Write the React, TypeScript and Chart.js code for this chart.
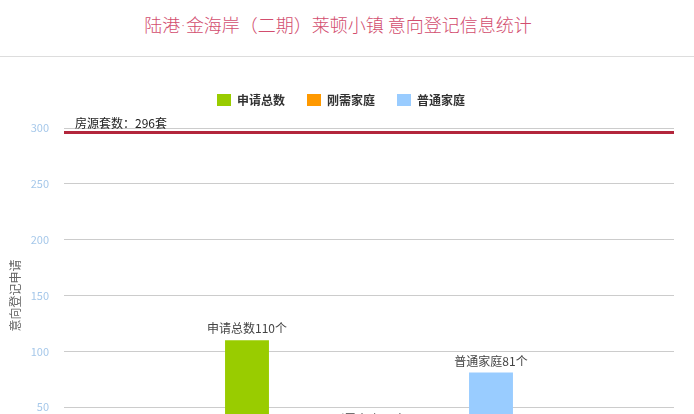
import React, { useEffect, useRef } from "react";
import { Chart, registerables } from "chart.js";

Chart.register(...registerables);

// chart data
const categories = ["意向登记"];
const seriesNames = ["申请总数", "刚需家庭", "普通家庭"];
const seriesValues = [110, 29, 81];
const seriesColors = ["#99cc00", "#ff9900", "#99ccff"];
const yTickValues = [0, 50, 100, 150, 200, 250, 300];
const houseCount = 296;

const FONT = '"Noto Sans CJK SC", "Noto Sans", sans-serif';

// push the plot area a bit further down from the legend
const legendGapPlugin = {
  id: "legendGap",
  beforeInit(chart: any) {
    const originalFit = chart.legend.fit;
    chart.legend.fit = function fit() {
      originalFit.bind(chart.legend)();
      this.height += 12;
    };
  },
};

// horizontal line for the number of houses
const markLinePlugin = {
  id: "markLine",
  afterDatasetsDraw(chart: any) {
    const { ctx, chartArea, scales } = chart;
    const y = scales.y.getPixelForValue(houseCount);
    ctx.save();
    ctx.strokeStyle = "#b3263c";
    ctx.lineWidth = 3;
    ctx.beginPath();
    ctx.moveTo(chartArea.left, y);
    ctx.lineTo(chartArea.right, y);
    ctx.stroke();
    ctx.fillStyle = "#222";
    ctx.font = `12px ${FONT}`;
    ctx.textAlign = "left";
    ctx.textBaseline = "alphabetic";
    ctx.fillText(`房源套数：${houseCount}套`, chartArea.left + 11, y - 4);
    ctx.restore();
  },
};

// labels on top of the bars
const barLabelPlugin = {
  id: "barLabel",
  afterDatasetsDraw(chart: any) {
    const ctx = chart.ctx as CanvasRenderingContext2D;
    ctx.save();
    ctx.font = `12px ${FONT}`;
    ctx.fillStyle = "#444";
    ctx.textAlign = "center";
    ctx.textBaseline = "alphabetic";
    chart.data.datasets.forEach((dataset: any, i: number) => {
      const meta = chart.getDatasetMeta(i);
      meta.data.forEach((bar: any, j: number) => {
        ctx.fillText(`${dataset.label}${dataset.data[j]}个`, bar.x, bar.y - 7);
      });
    });
    ctx.restore();
  },
};

const App: React.FC = () => {
  const canvasRef = useRef<HTMLCanvasElement | null>(null);
  const chartRef = useRef<Chart | null>(null);

  useEffect(() => {
    if (!canvasRef.current) return;
    if (chartRef.current) chartRef.current.destroy();

    chartRef.current = new Chart(canvasRef.current, {
      type: "bar",
      data: {
        labels: categories,
        datasets: seriesNames.map((name, i) => ({
          label: name,
          data: [seriesValues[i]],
          backgroundColor: seriesColors[i],
          categoryPercentage: 0.6,
          barPercentage: 0.36,
        })),
      },
      options: {
        animation: false,
        responsive: true,
        maintainAspectRatio: false,
        layout: { padding: { top: 15, right: 20, bottom: 24, left: 8 } },
        scales: {
          x: { display: false },
          y: {
            min: yTickValues[0],
            max: yTickValues[yTickValues.length - 1],
            afterBuildTicks: (axis: any) => {
              axis.ticks = yTickValues.map((v) => ({ value: v }));
            },
            afterFit: (axis: any) => {
              axis.width = 56; // plot starts at x=64 like the original
            },
            grid: { color: "#cccccc", drawTicks: false },
            border: { display: false },
            ticks: {
              color: "#a6c8ea",
              padding: 15,
              font: { family: FONT, size: 11 },
            },
            title: {
              display: true,
              text: "意向登记申请",
              color: "#666",
              font: { family: FONT, size: 12 },
              padding: { top: 0, bottom: 4 },
            },
          },
        },
        plugins: {
          legend: {
            display: true,
            position: "top",
            labels: {
              boxWidth: 14,
              boxHeight: 12,
              padding: 22,
              color: "#333",
              font: { family: FONT, size: 12, weight: "bold" },
            },
          },
          tooltip: { enabled: false },
        },
      },
      plugins: [legendGapPlugin, markLinePlugin, barLabelPlugin],
    });

    return () => {
      if (chartRef.current) {
        chartRef.current.destroy();
        chartRef.current = null;
      }
    };
  }, []);

  return (
    <div
      style={{
        position: "absolute",
        left: 0,
        top: 0,
        width: 694,
        height: 414,
        overflow: "hidden",
        background: "#fff",
      }}
    >
      <div
        style={{
          height: 57,
          boxSizing: "border-box",
          borderBottom: "1px solid #dddddd",
          textAlign: "center",
          paddingRight: 18,
          lineHeight: "48px",
          fontFamily: FONT,
          fontSize: 18,
          fontWeight: 300,
          color: "#d24d6e",
        }}
      >
        陆港<span style={{ fontFamily: '"DejaVu Sans", sans-serif' }}>·</span>
        金海岸（二期）莱顿小镇 意向登记信息统计
      </div>
      <div style={{ position: "relative", width: 694, height: 430 }}>
        <canvas ref={canvasRef} />
      </div>
    </div>
  );
};

export default App;
